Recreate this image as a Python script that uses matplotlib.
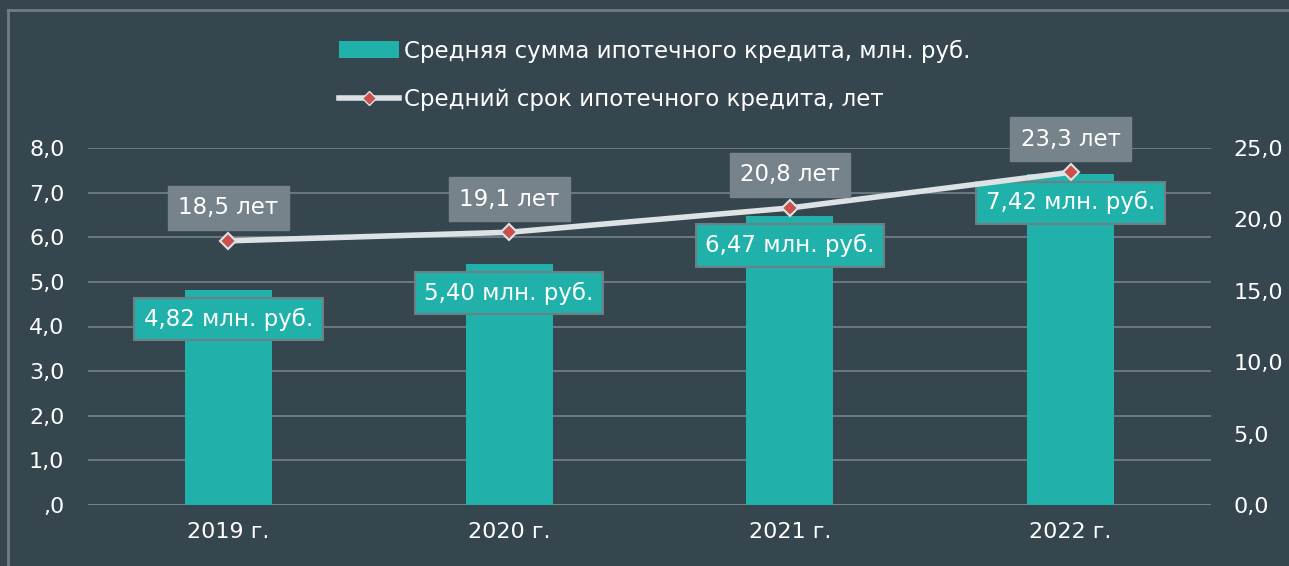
import matplotlib.pyplot as plt
from matplotlib.patches import Rectangle
from matplotlib.lines import Line2D

years = ["2019 г.", "2020 г.", "2021 г.", "2022 г."]
avg_sum = [4.82, 5.40, 6.47, 7.42]      # млн. руб.
avg_term = [18.5, 19.1, 20.8, 23.3]     # лет
left_ticks = [0, 1, 2, 3, 4, 5, 6, 7, 8]
right_ticks = [0, 5, 10, 15, 20, 25]

BG = "#36464f"
TEAL = "#20b2aa"
GRID = "#6f7d85"
LINE = "#dde3e5"
MARK = "#c9504b"
BOXGRAY = "#77838b"

plt.rcParams['font.family'] = ['DejaVu Sans']

fig = plt.figure(figsize=(12.89, 5.66), dpi=100, facecolor=BG)
ax = fig.add_axes([88 / 1289, 1 - 505 / 566, (1211 - 88) / 1289, (505 - 148) / 566])
ax.set_facecolor(BG)

# outer frame (top and left lines)
fig.add_artist(Line2D([7.5 / 1289, 7.5 / 1289], [0, 1 - 10 / 566], color=GRID, lw=2))
fig.add_artist(Line2D([7.5 / 1289, 1], [1 - 10 / 566, 1 - 10 / 566], color=GRID, lw=2))

x = list(range(len(years)))
ax.bar(x, avg_sum, width=0.31, color=TEAL, zorder=2)
ax.set_xlim(-0.5, 3.5)
ax.set_ylim(0, 8)
ax.set_yticks(left_ticks)
ax.set_yticklabels([",0"] + [f"{v:.1f}".replace(".", ",") for v in left_ticks[1:]])
ax.grid(axis='y', color=GRID, lw=1.3, zorder=0)
ax.axhline(0, color="#d0d6d9", lw=2, zorder=1)
ax.set_xticks(x)
ax.set_xticklabels(years)
for s in ax.spines.values():
    s.set_visible(False)
ax.tick_params(colors="white", labelsize=16, length=0)
ax.tick_params(axis='y', pad=17)
ax.tick_params(axis='x', pad=12)

ax2 = ax.twinx()
ax2.set_ylim(0, 25)
ax2.set_yticks(right_ticks)
ax2.set_yticklabels([f"{v:.1f}".replace(".", ",") for v in right_ticks])
for s in ax2.spines.values():
    s.set_visible(False)
ax2.tick_params(colors="white", labelsize=16, length=0, pad=16)
ax2.plot(x, avg_term, color=LINE, lw=4, zorder=3, solid_capstyle='round')
ax2.plot(x, avg_term, ls='none', marker='D', ms=8, mfc=MARK, mec=LINE, mew=1.5, zorder=4)

for xi, v in zip(x, avg_sum):
    ax.annotate(f"{v:.2f} млн. руб.".replace(".", ",", 1), (xi, v), xytext=(0, -29),
                textcoords='offset pixels', ha='center', va='center', color='white',
                fontsize=16.5, zorder=5,
                bbox=dict(boxstyle='square,pad=0.42', fc=TEAL, ec=GRID, lw=1.5))
for xi, v in zip(x, avg_term):
    ax2.annotate(f"{v:.1f} лет".replace(".", ","), (xi, v), xytext=(0, 33),
                 textcoords='offset pixels', ha='center', va='center', color='white',
                 fontsize=16.5, zorder=5,
                 bbox=dict(boxstyle='square,pad=0.45', fc=BOXGRAY, ec=BOXGRAY, lw=1))

handles = [Rectangle((0, 0), 1, 1, fc=TEAL, ec='none'),
           Line2D([], [], color=LINE, lw=4, marker='D', ms=7, mfc=MARK, mec=LINE)]
leg = fig.legend(handles, ["Средняя сумма ипотечного кредита, млн. руб.",
                           "Средний срок ипотечного кредита, лет"],
                 loc='center', bbox_to_anchor=(0.508, 1 - 75 / 566), ncol=1,
                 frameon=False, fontsize=16.5, labelcolor='white',
                 handlelength=2.6, handletextpad=0.2, labelspacing=1.1,
                 alignment='left')
for t in leg.get_texts():
    t.set_color('white')

fig.savefig("out.png", dpi=100, facecolor=BG)
